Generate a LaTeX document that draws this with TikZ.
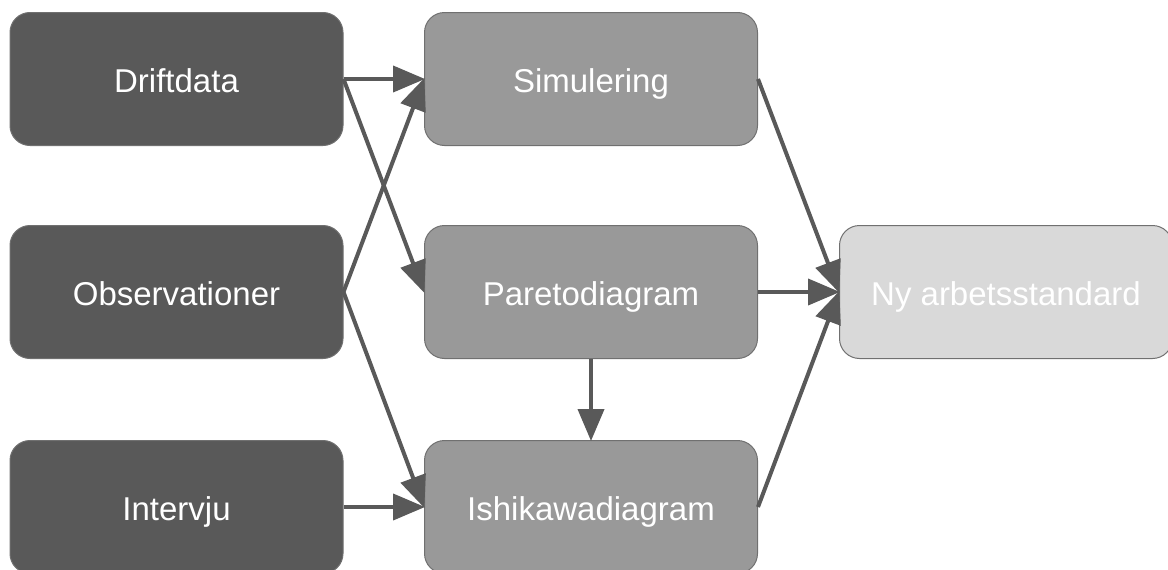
\documentclass[tikz,border=0pt]{standalone}
\usepackage{fontspec}
\setmainfont{Liberation Sans}
\usetikzlibrary{arrows.meta}
\definecolor{darkbox}{HTML}{595959}
\definecolor{midbox}{HTML}{999999}
\definecolor{lightbox}{HTML}{D9D9D9}
\definecolor{boxline}{HTML}{707070}
\definecolor{arrowcol}{HTML}{595959}
\tikzset{
  box/.style={draw=boxline, line width=1pt, rounded corners=20pt, minimum width=333pt, minimum height=133pt, inner sep=0pt, text height=26pt, text depth=0pt, text=white, font=\fontsize{33}{36}\selectfont},
  darknode/.style={box, fill=darkbox},
  midnode/.style={box, fill=midbox},
  lightnode/.style={box, fill=lightbox},
  conn/.style={draw=arrowcol, line width=4pt, -{Triangle[length=32pt,width=26pt]}, shorten >=-1pt}
}
\begin{document}
\begin{tikzpicture}[x=1pt,y=-1pt]
\useasboundingbox (0,0) rectangle (1168,570);
\node[darknode] (drift) at (176.5,79) {Driftdata};
\node[darknode] (obs) at (176.5,292) {Observationer};
\node[darknode] (interv) at (176.5,507) {Intervju};
\node[midnode] (sim) at (591,79) {Simulering};
\node[midnode] (pareto) at (591,292) {Paretodiagram};
\node[midnode] (ishi) at (591,507) {Ishikawadiagram};
\node[lightnode] (ny) at (1006,292) {Ny arbetsstandard};
\draw[conn] (drift.east) -- (sim.west);
\draw[conn] (drift.east) -- (pareto.west);
\draw[conn] (obs.east) -- (sim.west);
\draw[conn] (obs.east) -- (ishi.west);
\draw[conn] (interv.east) -- (ishi.west);
\draw[conn] (pareto.south) -- (ishi.north);
\draw[conn] (sim.east) -- (ny.west);
\draw[conn] (pareto.east) -- (ny.west);
\draw[conn] (ishi.east) -- (ny.west);
\end{tikzpicture}
\end{document}
